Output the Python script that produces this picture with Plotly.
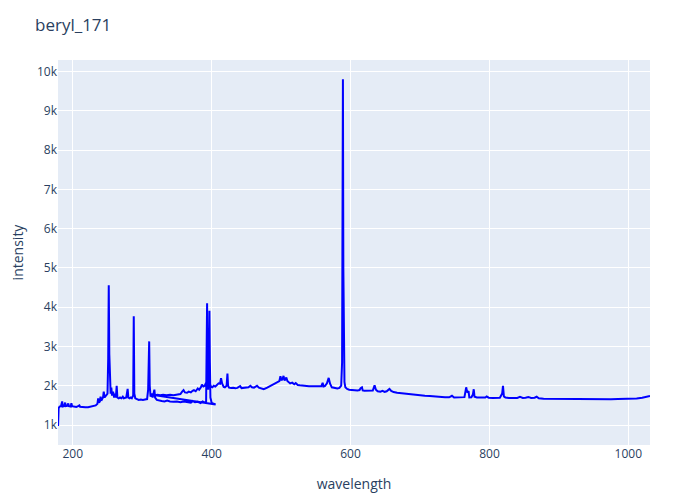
import plotly.graph_objects as go

# Channel A (UV spectrometer), wavelength in nm
wl_a = [178.8, 179.6, 181.0, 183.0, 184.7, 185.5, 187.5, 189.0, 190.0, 192.0, 193.5, 194.5,
        197.0, 198.0, 199.0, 202.0, 205.0, 207.0, 209.5, 210.5, 214.0, 218.0, 222.0, 226.0,
        230.0, 233.0, 235.5, 236.5, 237.5, 239.0, 240.0, 241.0, 243.5, 244.6, 245.8, 248.0,
        250.0, 251.0, 251.8, 252.6, 253.5, 254.5, 255.5, 256.5, 258.0, 259.5, 261.0, 262.0,
        263.2, 264.2, 266.0, 268.0, 270.0, 272.0, 273.5, 275.0, 277.0, 279.0, 280.0, 282.0,
        283.5, 285.0, 287.0, 287.8, 288.6, 290.0, 292.0, 295.0, 298.0, 301.0, 304.0, 307.0,
        308.5, 309.3, 310.0, 310.8, 312.0, 313.5, 315.0, 317.5, 318.5, 321.0, 324.0, 328.0,
        332.0, 336.0, 340.0, 345.0, 350.0, 355.0, 360.0, 365.0, 370.0, 373.0, 376.0, 380.0,
        384.0, 387.0, 390.0, 392.0, 392.8, 393.4, 394.0, 395.0, 396.2, 396.8, 397.4, 398.2,
        400.0, 402.0, 404.0, 405.7]
int_a = [975, 1430, 1470, 1480, 1600, 1470, 1480, 1570, 1480, 1485, 1550, 1480,
         1470, 1555, 1480, 1470, 1460, 1475, 1500, 1465, 1455, 1450, 1455, 1465,
         1480, 1500, 1540, 1680, 1570, 1600, 1720, 1620, 1700, 1850, 1700, 1750,
         1800, 2700, 4560, 2800, 1900, 1800, 1950, 1750, 1850, 1700, 1800, 1700,
         2000, 1700, 1680, 1700, 1680, 1720, 1680, 1690, 1700, 1920, 1700, 1680,
         1700, 1680, 1750, 3770, 1800, 1680, 1660, 1640, 1650, 1640, 1650, 1660,
         1900, 2600, 3130, 2000, 1720, 1800, 1700, 1900, 1700, 1640, 1620, 1610,
         1600, 1620, 1600, 1590, 1600, 1580, 1600, 1590, 1570, 1610, 1580, 1590,
         1560, 1600, 1570, 1600, 2500, 4100, 2600, 1900, 2800, 3910, 2600, 1700,
         1560, 1540, 1535, 1525]

# Channel B (VIS/NIR spectrometer)
wl_b = [319.0, 322.0, 326.0, 330.0, 335.0, 340.0, 345.0, 350.0, 355.0, 357.5, 359.5, 361.5,
        364.5, 367.0, 370.0, 372.5, 374.5, 377.0, 380.0, 382.0, 384.5, 386.0, 388.0, 390.0,
        392.5, 393.4, 394.2, 395.5, 396.8, 397.6, 399.0, 401.0, 403.0, 405.3, 408.0, 410.0,
        412.0, 413.5, 415.0, 417.3, 419.0, 421.5, 422.7, 423.6, 425.0, 428.0, 431.0, 434.0,
        437.0, 441.0, 443.0, 446.0, 450.0, 453.0, 455.7, 458.0, 461.0, 465.3, 468.0, 472.0,
        475.0, 480.0, 485.0, 490.0, 495.0, 497.5, 499.0, 500.5, 502.0, 503.5, 505.0, 507.5,
        509.0, 511.0, 513.0, 516.0, 519.0, 521.0, 524.0, 527.0, 531.0, 535.0, 540.0, 545.0,
        550.0, 555.0, 558.0, 559.8, 561.0, 563.0, 566.0, 568.5, 570.5, 573.0, 577.0, 581.0,
        584.0, 586.5, 587.8, 588.5, 589.0, 589.6, 590.3, 591.2, 592.5, 595.0, 598.0, 602.0,
        606.0, 610.0, 613.0, 614.5, 616.4, 617.5, 620.0, 624.0, 628.0, 632.0, 634.6, 636.5,
        639.0, 643.0, 646.0, 649.0, 652.0, 656.0, 658.5, 662.0, 667.0, 672.0, 677.0, 681.0,
        687.0, 693.0, 700.0, 707.0, 714.0, 721.0, 729.0, 736.0, 742.0, 746.0, 749.0, 755.0,
        760.0, 764.0, 766.5, 768.0, 769.9, 771.0, 774.0, 776.2, 777.4, 778.5, 782.0, 788.0,
        794.0, 796.0, 799.0, 805.0, 811.0, 815.0, 818.3, 819.5, 820.8, 823.0, 828.0, 834.0,
        840.0, 844.0, 848.0, 852.0, 856.0, 860.0, 865.0, 868.0, 871.0, 878.0, 888.0, 898.0,
        908.0, 918.0, 928.0, 938.0, 948.0, 958.0, 965.0, 975.0, 985.0, 995.0, 1005.0, 1012.0,
        1020.0, 1026.0, 1031.2]
int_b = [1760, 1770, 1760, 1770, 1760, 1770, 1760, 1780, 1790, 1850, 1890, 1830,
         1820, 1850, 1830, 1870, 1890, 1860, 1930, 1900, 1960, 2030, 1980, 2000,
         2100, 2900, 2100, 2000, 2700, 2050, 1980, 1960, 2000, 1980, 2020, 2060,
         2050, 2190, 2060, 1970, 1960, 2000, 2310, 2000, 1950, 1940, 1950, 1935,
         1945, 1990, 1940, 1950, 1945, 1960, 2000, 1960, 1950, 2000, 1950, 1920,
         1910, 1950, 2000, 2040, 2090, 2120, 2240, 2140, 2170, 2250, 2130, 2210,
         2120, 2080, 2060, 2080, 2040, 2070, 2020, 2010, 2000, 1990, 1985, 1990,
         1985, 1975, 1990, 2075, 1980, 1990, 2060, 2200, 2050, 1960, 1935, 1930,
         1945, 2000, 2600, 5200, 9810, 5000, 2900, 2100, 1960, 1920, 1900, 1890,
         1880, 1880, 1890, 1940, 1960, 1880, 1870, 1875, 1865, 1880, 2010, 1900,
         1860, 1850, 1870, 1845, 1860, 1920, 1870, 1840, 1820, 1810, 1795, 1780,
         1770, 1760, 1750, 1745, 1740, 1725, 1712, 1710, 1705, 1745, 1700, 1698,
         1700, 1710, 1960, 1830, 1860, 1700, 1705, 1780, 1910, 1720, 1700, 1695,
         1700, 1725, 1695, 1690, 1688, 1692, 1800, 1995, 1730, 1700, 1690, 1688,
         1690, 1715, 1690, 1695, 1715, 1690, 1695, 1720, 1680, 1670, 1668, 1665,
         1668, 1662, 1665, 1660, 1652, 1640, 1650, 1655, 1660, 1662, 1665, 1675,
         1695, 1715, 1740]

x_range = [178.7, 1031.2]
y_range = [490.6, 10298]

wavelength = wl_a + wl_b
intensity = int_a + int_b

fig = go.Figure()
fig.add_trace(go.Scatter(x=wavelength, y=intensity, mode="lines",
                         line=dict(color="blue", width=2), showlegend=False))
fig.update_layout(
    template="plotly",
    title=dict(text="beryl_171", x=27 / 692, xanchor="left",
               yref="container", y=1 - 17 / 492, yanchor="middle"),
    width=692, height=492,
    margin=dict(l=49.5, r=50, t=52, b=55),
    xaxis=dict(title=dict(text="wavelength", standoff=18), range=x_range, automargin=False),
    yaxis=dict(title=dict(text="intensity", standoff=20), range=y_range, dtick=1000,
               automargin=False),
)
fig.write_html("out.html")
